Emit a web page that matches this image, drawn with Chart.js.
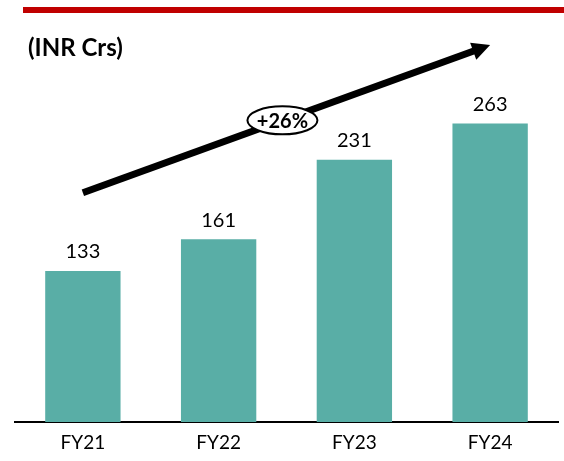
<!DOCTYPE html>
<html>
<head>
<meta charset="utf-8">
<script src="https://cdn.jsdelivr.net/npm/chart.js@4"></script>
<style>
html,body{margin:0;padding:0;background:#fff;}
#wrap{width:564px;height:461px;position:relative;}
</style>
</head>
<body>
<div id="wrap"><canvas id="c" width="564" height="461"></canvas></div>
<script>
const categories = ["FY21", "FY22", "FY23", "FY24"];
const revenue = [133, 161, 231, 263];
const unitLabel = "(INR Crs)";
const growthLabel = "+26%";
// arrow endpoints in data space (category index, value)
const arrowFrom = [0, 202];
const arrowTo = [3, 332];

const FONT = "Lato, 'Open Sans', sans-serif";

const decor = {
  id: 'decor',
  afterDatasetsDraw(chart) {
    const ctx = chart.ctx;
    const xs = chart.scales.x, ys = chart.scales.y;
    ctx.save();
    // top red rule
    ctx.fillStyle = '#C00000';
    ctx.fillRect(23, 7, 541, 6);
    // title
    ctx.fillStyle = '#000';
    ctx.font = "bold 24px " + FONT;
    ctx.textAlign = 'left';
    ctx.textBaseline = 'middle';
    ctx.fillText(unitLabel, 28, 48);
    // value labels
    const meta = chart.getDatasetMeta(0);
    ctx.font = "20px " + FONT;
    ctx.textAlign = 'center';
    ctx.textBaseline = 'bottom';
    meta.data.forEach((bar, i) => {
      ctx.fillText(String(revenue[i]), bar.x, bar.y - 9);
    });
    // arrow
    const x0 = xs.getPixelForValue(arrowFrom[0]), y0 = ys.getPixelForValue(arrowFrom[1]);
    const x1 = xs.getPixelForValue(arrowTo[0]), y1 = ys.getPixelForValue(arrowTo[1]);
    const dx = x1 - x0, dy = y1 - y0, len = Math.hypot(dx, dy);
    const ux = dx / len, uy = dy / len, px = -uy, py = ux;
    const headL = 18, headW = 9;
    const bx = x1 - ux * headL, by = y1 - uy * headL;
    ctx.strokeStyle = '#000';
    ctx.lineWidth = 7;
    ctx.lineCap = 'butt';
    ctx.beginPath();
    ctx.moveTo(x0, y0);
    ctx.lineTo(bx + ux * 2, by + uy * 2);
    ctx.stroke();
    ctx.fillStyle = '#000';
    ctx.beginPath();
    ctx.moveTo(x1, y1);
    ctx.lineTo(bx + px * headW, by + py * headW);
    ctx.lineTo(bx - px * headW, by - py * headW);
    ctx.closePath();
    ctx.fill();
    // growth ellipse
    const t = 0.49;
    const cx = x0 + dx * t, cy = y0 + dy * t;
    ctx.beginPath();
    ctx.ellipse(cx, cy, 35, 14, 0, 0, Math.PI * 2);
    ctx.fillStyle = '#fff';
    ctx.fill();
    ctx.lineWidth = 2;
    ctx.strokeStyle = '#000';
    ctx.stroke();
    ctx.fillStyle = '#000';
    ctx.font = "bold 20px " + FONT;
    ctx.textAlign = 'center';
    ctx.textBaseline = 'middle';
    ctx.fillText(growthLabel, cx, cy + 1);
    ctx.restore();
  }
};

new Chart(document.getElementById('c'), {
  type: 'bar',
  data: {
    labels: categories,
    datasets: [{
      data: revenue,
      backgroundColor: '#59AEA6',
      borderWidth: 0,
      categoryPercentage: 1,
      barPercentage: 0.555
    }]
  },
  options: {
    responsive: false,
    animation: false,
    devicePixelRatio: 1,
    layout: { padding: { left: 15, right: 6, top: 36, bottom: 0 } },
    plugins: { legend: { display: false }, tooltip: { enabled: false }, title: { display: false } },
    scales: {
      x: {
        grid: { display: false, drawTicks: false },
        border: { display: true, color: '#000', width: 2 },
        ticks: { color: '#000', font: { family: FONT, size: 19 }, padding: 9 },
        afterFit(s) { s.height = 39; }
      },
      y: {
        display: false,
        min: 0,
        max: 340
      }
    }
  },
  plugins: [decor]
});
</script>
</body>
</html>
